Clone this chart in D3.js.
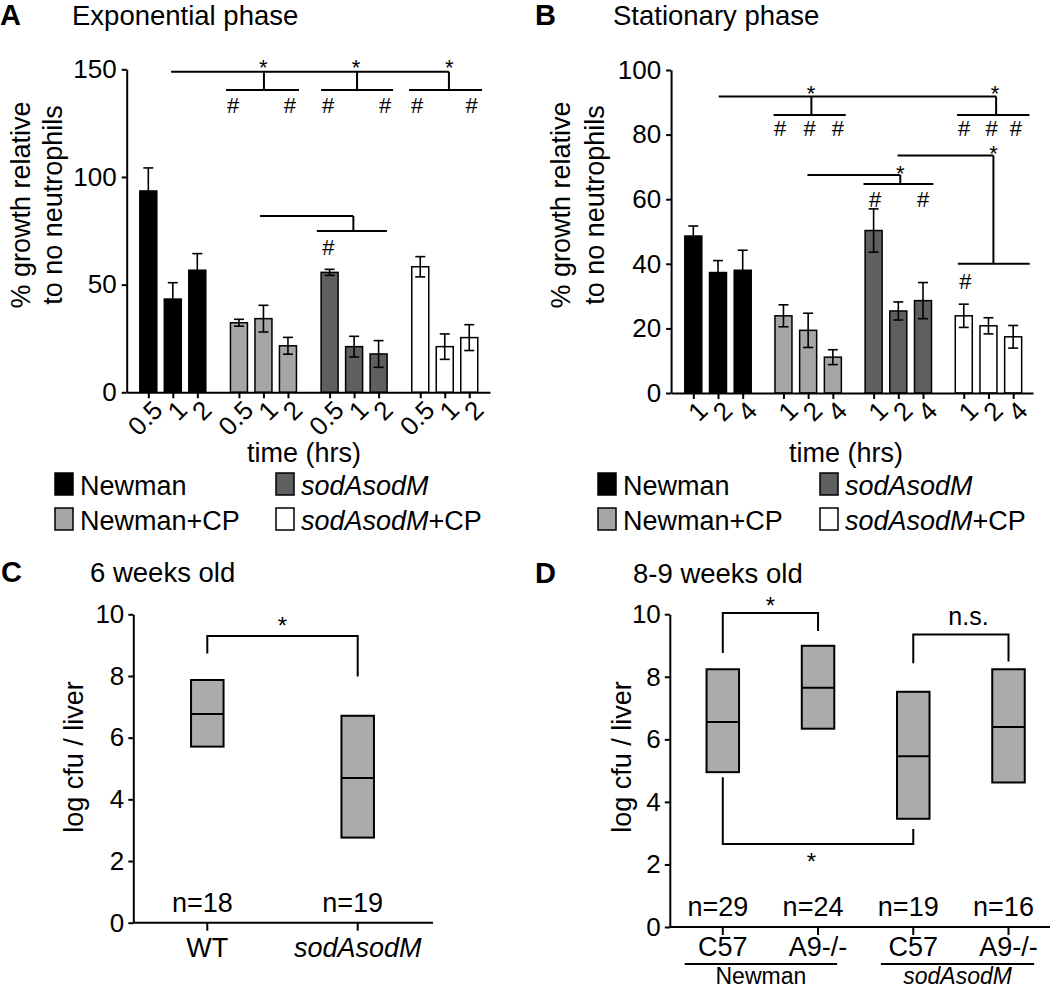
<!DOCTYPE html>
<html><head><meta charset="utf-8">
<script src="https://cdn.jsdelivr.net/npm/d3@7"></script>
<style>
body{margin:0;background:#fff}
svg{display:block}
text{font-family:"Liberation Sans",Arial,Helvetica,sans-serif;fill:#000}
</style>
</head><body>
<svg id="chart" width="1050" height="991"></svg>
<script>
// ---------------- DATA ----------------
const strainNames = ["Newman", "Newman+CP", "sodAsodM", "sodAsodM+CP"];
const expTimes = ["0.5", "1", "2"];
const statTimes = ["1", "2", "4"];

// Panel A: exponential phase (% growth), mean and SEM
const expNewman     = [93.5, 43.3, 56.7];
const expNewmanErr  = [10.7, 7.6, 7.7];
const expNewmanCP   = [32.3, 34.2, 21.6];
const expNewmanCPErr= [1.6, 6.2, 3.9];
const expSod        = [55.7, 21.2, 17.8];
const expSodErr     = [1.4, 4.8, 6.2];
const expSodCP      = [58.3, 21.2, 25.4];
const expSodCPErr   = [4.7, 5.9, 6.0];
const expYTicks = [0, 50, 100, 150];

// Panel B: stationary phase
const statNewman     = [48.6, 37.3, 38.0];
const statNewmanErr  = [3.1, 3.7, 6.2];
const statNewmanCP   = [23.9, 19.4, 11.1];
const statNewmanCPErr= [3.4, 5.3, 2.3];
const statSod        = [50.3, 25.4, 28.6];
const statSodErr     = [6.7, 2.8, 5.6];
const statSodCP      = [23.9, 20.8, 17.4];
const statSodCPErr   = [3.6, 2.5, 3.5];
const statYTicks = [0, 20, 40, 60, 80, 100];

// significance annotations (x in bar-slot units, y in data units)
const expSegments = [
  [0.93,148.9,12.27,148.9],
  [4.72,148.9,4.72,140.4],[3.17,140.4,6.15,140.4],
  [8.52,148.9,8.52,140.4],[7.05,140.4,9.99,140.4],
  [12.27,148.9,12.27,140.4],[10.64,140.4,13.62,140.4],
  [4.56,81.9,8.37,81.9],[8.37,81.9,8.37,74.9],[6.88,74.9,9.74,74.9]
];
const expMarks = [
  ["*",4.69,153.4],["*",8.48,153.4],["*",12.29,153.4],
  ["#",3.46,133.4],["#",5.78,133.4],["#",7.34,133.4],["#",9.67,133.4],["#",10.97,133.4],["#",13.2,133.4],
  ["#",7.35,67.5]
];
const statSegments = [
  [1.03,91.8,12.26,91.8],
  [4.78,91.8,4.78,86.1],[3.25,86.1,6.17,86.1],
  [12.26,91.8,12.26,86.1],[10.68,86.1,13.61,86.1],
  [4.62,67.5,8.38,67.5],[8.38,67.5,8.38,64.7],[6.89,64.7,9.72,64.7],
  [8.27,73.5,12.15,73.5],[12.15,73.5,12.15,40.0],[10.71,40.0,13.62,40.0]
];
const statMarks = [
  ["*",4.77,94.2],["*",12.22,94.2],
  ["#",3.52,81.9],["#",4.71,81.9],["#",5.85,81.9],["#",10.96,81.9],["#",12.08,81.9],["#",13.06,81.9],
  ["*",8.38,69.6],["#",7.36,59.9],["#",9.30,59.9],
  ["*",12.15,75.9],["#",11.02,34.8]
];

// Panel C: 6 weeks old, log cfu / liver
const cGroups = ["WT", "sodAsodM"];
const cLow  = [5.71, 2.76];
const cMed  = [6.77, 4.69];
const cHigh = [7.87, 6.71];
const cN    = ["n=18", "n=19"];

// Panel D: 8-9 weeks old
const dGroups = ["C57", "A9-/-", "C57", "A9-/-"];
const dStrains = ["Newman", "sodAsodM"];
const dLow  = [4.95, 6.34, 3.46, 4.62];
const dMed  = [6.55, 7.65, 5.46, 6.39];
const dHigh = [8.24, 8.99, 7.52, 8.24];
const dN    = ["n=29", "n=24", "n=19", "n=16"];
const logTicks = [0, 2, 4, 6, 8, 10];

// ---------------- STYLE ----------------
const FONT = '"Liberation Sans",Arial,Helvetica,sans-serif';
const fills = ["#000000", "#a6a6a6", "#5f5f5f", "#ffffff"];
const boxFill = "#ababab";

const svg = d3.select("#chart");

function styleAxis(g, fs) {
  g.attr("font-size", fs).attr("font-family", FONT);
  g.selectAll("path.domain").attr("stroke", "#000").attr("stroke-width", 2);
  g.selectAll(".tick line").attr("stroke", "#000").attr("stroke-width", 2);
  g.selectAll(".tick text").attr("fill", "#000");
}

function richLabel(sel, name) {
  const m = name.match(/^(sodAsodM)(.*)$/);
  if (m) {
    sel.append("tspan").attr("font-style", "italic").text(m[1]);
    if (m[2]) sel.append("tspan").text(m[2]);
  } else sel.text(name);
}

function barPanel(o) {
  const x = d3.scaleLinear().domain(o.xDomain).range(o.xRange);
  const y = d3.scaleLinear().domain([0, o.yMax]).range([o.y0, o.yTop]);
  const g = svg.append("g");
  const bars = [];
  o.series.forEach((s, gi) => {
    s.vals.forEach((v, j) => {
      bars.push({slot: gi * o.groupStep + j, v, e: s.errs[j], fill: fills[gi], label: o.times[j]});
    });
  });
  const bw = 17;
  g.selectAll("rect.bar").data(bars).join("rect")
    .attr("x", d => x(d.slot) - bw / 2).attr("width", bw)
    .attr("y", d => y(d.v)).attr("height", d => y(0) - y(d.v))
    .attr("fill", d => d.fill).attr("stroke", "#000").attr("stroke-width", 1.5);
  const eb = g.selectAll("g.err").data(bars).join("g");
  eb.append("line").attr("x1", d => x(d.slot)).attr("x2", d => x(d.slot))
    .attr("y1", d => y(d.v - d.e)).attr("y2", d => y(d.v + d.e))
    .attr("stroke", "#000").attr("stroke-width", 1.6);
  [1, -1].forEach(sgn => {
    eb.append("line").attr("x1", d => x(d.slot) - 5).attr("x2", d => x(d.slot) + 5)
      .attr("y1", d => y(d.v + sgn * d.e)).attr("y2", d => y(d.v + sgn * d.e))
      .attr("stroke", "#000").attr("stroke-width", 1.6);
  });
  const ya = g.append("g").attr("transform", `translate(${o.xRange[0]},0)`)
    .call(d3.axisLeft(y).tickValues(o.yTicks).tickSize(5).tickSizeOuter(0).tickPadding(5));
  styleAxis(ya, 26);
  const xa = g.append("g").attr("transform", `translate(0,${o.y0})`)
    .call(d3.axisBottom(x).tickValues(bars.map(d => d.slot)).tickFormat((d, i) => bars[i].label).tickSize(6).tickSizeOuter(0));
  styleAxis(xa, 26);
  xa.selectAll(".tick text").attr("x", 0).attr("y", 0).attr("dy", "0.35em")
    .attr("transform", "translate(9,13) rotate(-45)").style("text-anchor", "end");
  g.selectAll("line.sig").data(o.segments).join("line")
    .attr("x1", d => x(d[0])).attr("y1", d => y(d[1])).attr("x2", d => x(d[2])).attr("y2", d => y(d[3]))
    .attr("stroke", "#000").attr("stroke-width", 2);
  g.selectAll("text.mark").data(o.marks).join("text")
    .attr("x", d => x(d[1])).attr("y", d => y(d[2]))
    .attr("dy", d => d[0] === "*" ? "0.58em" : "0.36em")
    .attr("text-anchor", "middle").attr("font-size", 22).text(d => d[0]);
  g.append("text").attr("x", o.letterX).attr("y", 25).attr("font-size", 29).attr("font-weight", "bold").text(o.letter);
  g.append("text").attr("x", o.titleX).attr("y", 25).attr("font-size", 27.5).text(o.title);
  const yl = g.append("text").attr("font-size", 27).attr("text-anchor", "middle")
    .attr("transform", `translate(${o.ylabX},205) rotate(-90)`);
  yl.append("tspan").attr("x", 0).attr("y", 0).text("% growth relative");
  yl.append("tspan").attr("x", 0).attr("y", o.ylabGap).text("to no neutrophils");
  g.append("text").attr("x", o.xlabX).attr("y", 462).attr("font-size", 27).attr("text-anchor", "middle").text("time (hrs)");
  const leg = g.append("g");
  strainNames.forEach((n, i) => {
    const col = i === 0 || i === 1 ? 0 : 1;
    const row = i === 0 || i === 2 ? 0 : 1;
    const sx = o.legX[col], by = 495 + row * 35;
    leg.append("rect").attr("x", sx).attr("y", by - 22).attr("width", 18).attr("height", 22)
      .attr("fill", fills[i]).attr("stroke", "#000").attr("stroke-width", 1.5);
    const t = leg.append("text").attr("x", sx + o.legGap).attr("y", by).attr("font-size", 27);
    richLabel(t, n);
  });
}

barPanel({
  letter: "A", letterX: 0, title: "Exponential phase", titleX: 72,
  series: [
    {vals: expNewman, errs: expNewmanErr}, {vals: expNewmanCP, errs: expNewmanCPErr},
    {vals: expSod, errs: expSodErr}, {vals: expSodCP, errs: expSodCPErr}],
  times: expTimes, groupStep: 3.7, yMax: 150, yTicks: expYTicks,
  xDomain: [-0.882, 13.947], xRange: [126.7, 490], y0: 392.3, yTop: 69.3,
  segments: expSegments, marks: expMarks,
  ylabX: 29.5, ylabGap: 32.5, xlabX: 304, legX: [55, 276], legGap: 25
});
barPanel({
  letter: "B", letterX: 535, title: "Stationary phase", titleX: 613,
  series: [
    {vals: statNewman, errs: statNewmanErr}, {vals: statNewmanCP, errs: statNewmanCPErr},
    {vals: statSod, errs: statSodErr}, {vals: statSodCP, errs: statSodCPErr}],
  times: statTimes, groupStep: 3.65, yMax: 100, yTicks: statYTicks,
  xDomain: [-0.899, 13.753], xRange: [671.1, 1033], y0: 393, yTop: 70,
  segments: statSegments, marks: statMarks,
  ylabX: 570, ylabGap: 33.5, xlabX: 846, legX: [598, 820], legGap: 25
});

function boxPanel(o) {
  const g = svg.append("g");
  const y = d3.scaleLinear().domain([0, 10]).range([o.y0, o.y10]);
  const x = d3.scaleLinear().domain([0, o.groups.length - 1]).range(o.catRange);
  const data = o.groups.map((c, i) => ({i, c, lo: o.low[i], md: o.med[i], hi: o.high[i], n: o.n[i]}));
  const bw = 32.5;
  g.selectAll("rect.box").data(data).join("rect")
    .attr("x", d => x(d.i) - bw / 2).attr("width", bw)
    .attr("y", d => y(d.hi)).attr("height", d => y(d.lo) - y(d.hi))
    .attr("fill", boxFill).attr("stroke", "#000").attr("stroke-width", 2);
  g.selectAll("line.med").data(data).join("line")
    .attr("x1", d => x(d.i) - bw / 2).attr("x2", d => x(d.i) + bw / 2)
    .attr("y1", d => y(d.md)).attr("y2", d => y(d.md))
    .attr("stroke", "#000").attr("stroke-width", 2);
  g.selectAll("text.n").data(data).join("text")
    .attr("x", d => x(d.i) - 5).attr("y", y(0.35)).attr("text-anchor", "middle").attr("font-size", 27)
    .text(d => d.n);
  const ya = g.append("g").attr("transform", `translate(${o.axisX},0)`)
    .call(d3.axisLeft(y).tickValues(logTicks).tickSize(5).tickSizeOuter(0).tickPadding(4));
  styleAxis(ya, 26);
  g.append("line").attr("x1", o.axisX).attr("x2", o.axisEnd).attr("y1", o.y0).attr("y2", o.y0)
    .attr("stroke", "#000").attr("stroke-width", 2);
  g.selectAll("line.xt").data(data).join("line")
    .attr("x1", d => x(d.i)).attr("x2", d => x(d.i)).attr("y1", o.y0).attr("y2", o.y0 + 8)
    .attr("stroke", "#000").attr("stroke-width", 2);
  g.selectAll("text.cat").data(data).join("text")
    .attr("x", d => x(d.i)).attr("y", o.y0 + o.catDy).attr("text-anchor", "middle").attr("font-size", 27)
    .each(function (d) { richLabel(d3.select(this), d.c); });
  o.brackets.forEach(b => {
    const p = d3.path();
    p.moveTo(x(b.a), y(b.ya)); p.lineTo(x(b.a), y(b.h)); p.lineTo(x(b.b), y(b.h)); p.lineTo(x(b.b), y(b.yb));
    g.append("path").attr("d", p.toString()).attr("fill", "none").attr("stroke", "#000").attr("stroke-width", 2);
    g.append("text").attr("x", x(b.tx)).attr("y", y(b.ty)).attr("dy", b.t === "*" ? "0.58em" : 0)
      .attr("text-anchor", "middle").attr("font-size", b.t === "*" ? 24 : 25).text(b.t);
  });
  if (o.strains) {
    o.strains.forEach(s => {
      g.append("line").attr("x1", x(s.a)).attr("x2", x(s.b)).attr("y1", o.y0 + 37).attr("y2", o.y0 + 37)
        .attr("stroke", "#000").attr("stroke-width", 2);
      const t = g.append("text").attr("x", x((s.a + s.b) / 2)).attr("y", 984)
        .attr("text-anchor", "middle").attr("font-size", 23);
      richLabel(t, s.name);
    });
  }
  g.append("text").attr("x", o.letterX).attr("y", o.titleY).attr("font-size", 29).attr("font-weight", "bold").text(o.letter);
  g.append("text").attr("x", o.titleX).attr("y", o.titleY).attr("font-size", 27.5).text(o.title);
  g.append("text").attr("font-size", 27).attr("text-anchor", "middle")
    .attr("transform", `translate(${o.ylabX},757) rotate(-90)`).text("log cfu / liver");
}

boxPanel({
  letter: "C", letterX: 1, title: "6 weeks old", titleX: 90, titleY: 582,
  groups: cGroups, low: cLow, med: cMed, high: cHigh, n: cN,
  y0: 922.7, y10: 614.3, axisX: 133.3, axisEnd: 433, catRange: [207.3, 357.7], catDy: 34,
  ylabX: 83,
  brackets: [{a: 0, b: 1, ya: 8.73, yb: 7.98, h: 9.3, t: "*", tx: 0.5, ty: 9.8}]
});
boxPanel({
  letter: "D", letterX: 535, title: "8-9 weeks old", titleX: 633, titleY: 583,
  groups: dGroups, low: dLow, med: dMed, high: dHigh, n: dN,
  y0: 927, y10: 614.2, axisX: 669.8, axisEnd: 1052, catRange: [722.8, 1008.5], catDy: 29,
  ylabX: 631,
  brackets: [
    {a: 0, b: 1, ya: 8.76, yb: 9.46, h: 10.04, t: "*", tx: 0.5, ty: 10.46},
    {a: 2, b: 3, ya: 8.43, yb: 8.49, h: 9.35, t: "n.s.", tx: 2.58, ty: 9.66},
    {a: 0, b: 2, ya: 4.79, yb: 3.13, h: 2.65, t: "*", tx: 0.93, ty: 2.27}
  ],
  strains: [{name: dStrains[0], a: -0.4, b: 1.2}, {name: dStrains[1], a: 1.66, b: 3.27}]
});
</script>
</body></html>
